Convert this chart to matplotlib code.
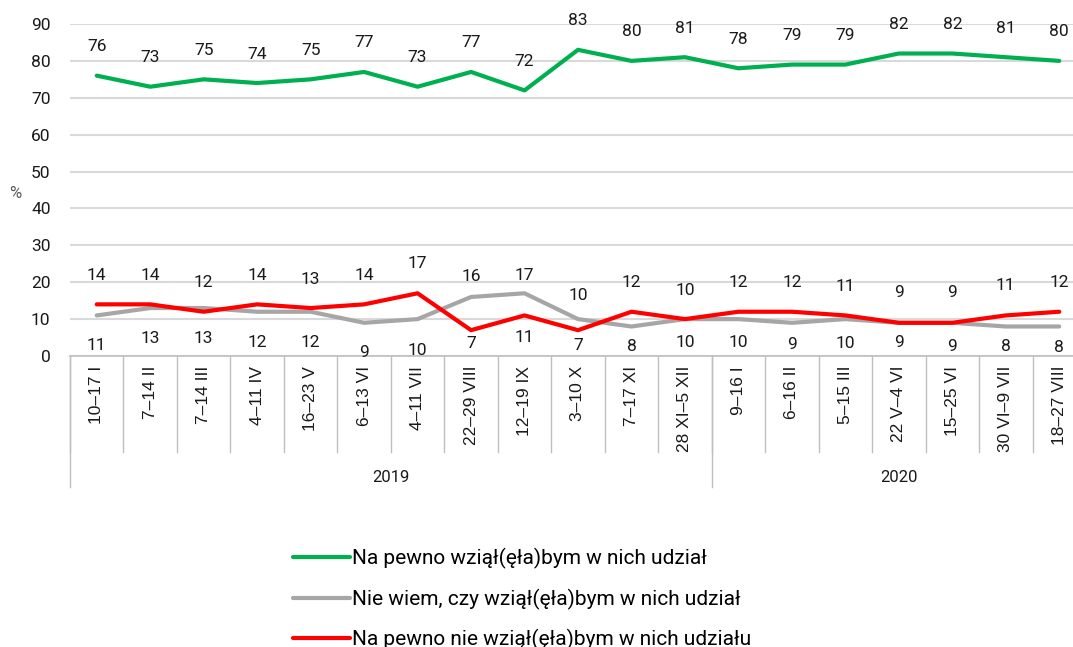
import matplotlib
matplotlib.use("Agg")
import matplotlib.pyplot as plt
from matplotlib import rcParams
rcParams['font.family'] = 'Roboto'
rcParams['font.size'] = 12.5

# okresy badan
okresy = ["10–17 I", "7–14 II", "7–14 III", "4–11 IV", "16–23 V", "6–13 VI",
          "4–11 VII", "22–29 VIII", "12–19 IX", "3–10 X", "7–17 XI", "28 XI–5 XII",
          "9–16 I", "6–16 II", "5–15 III", "22 V–4 VI", "15–25 VI", "30 VI–9 VII",
          "18–27 VIII"]
lata = ["2019", "2020"]
n_2019 = 12

na_pewno_tak = [76, 73, 75, 74, 75, 77, 73, 77, 72, 83, 80, 81, 78, 79, 79, 82, 82, 81, 80]
nie_wiem = [11, 13, 13, 12, 12, 9, 10, 16, 17, 10, 8, 10, 10, 9, 10, 9, 9, 8, 8]
na_pewno_nie = [14, 14, 12, 14, 13, 14, 17, 7, 11, 7, 12, 10, 12, 12, 11, 9, 9, 11, 12]

# gdzie etykieta "nie wiem" stoi nad linia (w pozostalych punktach - pod)
nie_wiem_nad = [7, 8, 9]
# odsuniecie etykiet dolnych serii od punktu (px), jak w oryginale
odst_gora = [29, 29, 29, 29, 29, 29, 30, 20, 18, 24, 29, 29, 29, 29, 29, 30, 30, 30, 29]
odst_dol = [30, 30, 30, 31, 31, 30, 31, 13, 22, 15, 20, 23, 23, 22, 24, 20, 24, 20, 21]

etykiety = ["Na pewno wziął(ęła)bym w nich udział",
            "Nie wiem, czy wziął(ęła)bym w nich udział",
            "Na pewno nie wziął(ęła)bym w nich udziału"]
kolory = ["#00B050", "#A6A6A6", "#FF0000"]

fig = plt.figure(figsize=(10.73, 6.47), dpi=100)
ax = fig.add_axes([70 / 1073, 1 - 356 / 647, 1016 / 1073, 332 / 647])

x = list(range(len(okresy)))
l_tak, = ax.plot(x, na_pewno_tak, color=kolory[0], lw=3, zorder=4, solid_capstyle='round')
l_nw, = ax.plot(x, nie_wiem, color=kolory[1], lw=3, zorder=3, solid_capstyle='round')
l_nie, = ax.plot(x, na_pewno_nie, color=kolory[2], lw=3, zorder=3.5, solid_capstyle='round')


def etykieta(i, v, dy_px):
    ax.annotate(str(v), (i, v), xytext=(0, dy_px * 0.72),
                textcoords='offset points', ha='center', va='center', color='#1a1a1a')


for i in x:
    etykieta(i, na_pewno_tak[i], 29)
    if i in nie_wiem_nad:
        etykieta(i, nie_wiem[i], odst_gora[i])
        etykieta(i, na_pewno_nie[i], -odst_dol[i])
    else:
        etykieta(i, na_pewno_nie[i], odst_gora[i])
        etykieta(i, nie_wiem[i], -odst_dol[i])

ax.set_xlim(-0.5, len(okresy) - 0.5)
ax.set_ylim(0, 90)
ax.set_yticks(range(0, 91, 10))
ax.yaxis.grid(True, color='#D9D9D9', lw=1.5)
ax.set_axisbelow(True)
ax.tick_params(axis='y', length=0, pad=14, labelcolor='#1a1a1a')
ax.set_xticks([])
for s in ['top', 'right', 'left']:
    ax.spines[s].set_visible(False)
ax.spines['bottom'].set_color('#BFBFBF')
ax.spines['bottom'].set_linewidth(1.2)
ax.text(-0.054, 0.49, '%', transform=ax.transAxes, ha='center', va='center',
        color='#595959', fontsize=12)

# tabela kategorii pod osia
tr = ax.get_xaxis_transform()
for i in range(len(okresy) + 1):
    ax.plot([i - 0.5, i - 0.5], [0, -0.29], transform=tr, color='#BFBFBF',
            lw=1, clip_on=False)
for i, lab in enumerate(okresy):
    ax.text(i, -0.03, lab, transform=tr, rotation=90, ha='center', va='top',
            fontsize=12.5, family='Liberation Sans', color='#1a1a1a')
for xb in [-0.5, n_2019 - 0.5, len(okresy) - 0.5]:
    ax.plot([xb, xb], [0, -0.395], transform=tr, color='#BFBFBF', lw=1, clip_on=False)
ax.text((n_2019 - 1) / 2, -0.365, lata[0], transform=tr, ha='center', va='center',
        fontsize=12, color='#1a1a1a')
ax.text((n_2019 + len(okresy) - 1) / 2, -0.365, lata[1], transform=tr, ha='center',
        va='center', fontsize=12, color='#1a1a1a')

fig.legend([l_tak, l_nw, l_nie], etykiety, loc='center left',
           bbox_to_anchor=(293 / 1073, 1 - 599 / 647), frameon=False,
           fontsize=15, borderpad=0, borderaxespad=0, handlelength=2.75,
           handletextpad=0.1, labelspacing=0.95)

fig.savefig('out.png', dpi=100)
